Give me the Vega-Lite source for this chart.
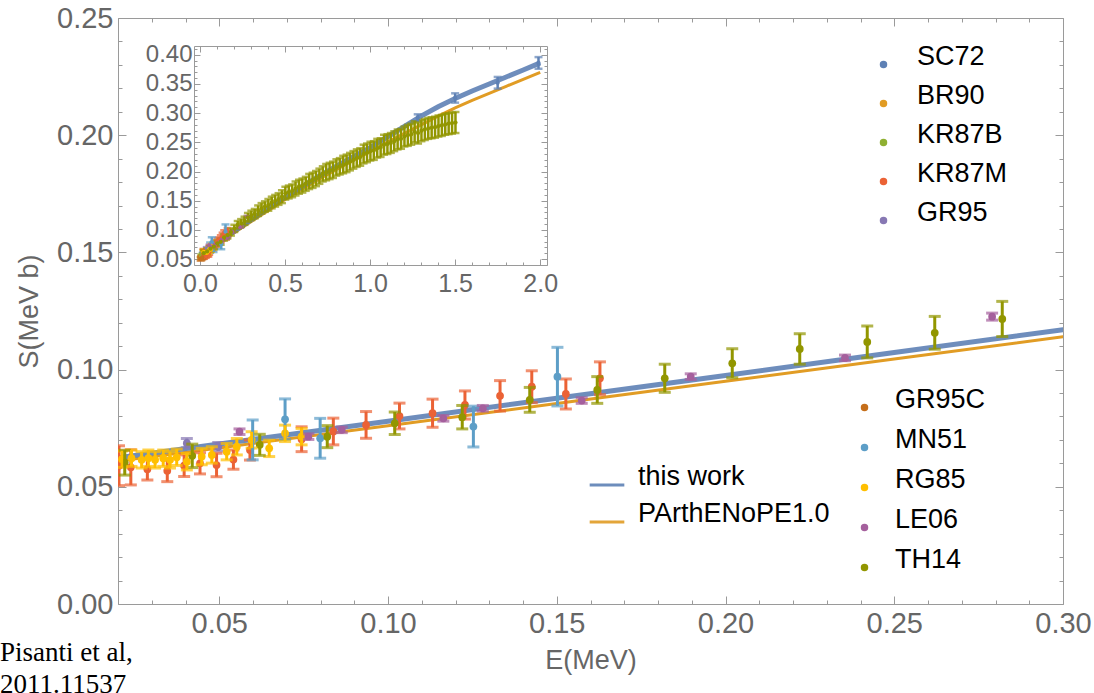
{
"$schema": "https://vega.github.io/schema/vega-lite/v6.json",
"width": 945, "height": 586,
"autosize": {"type": "none"},
"padding": {"left": 118, "top": 18, "right": 31, "bottom": 89},
"background": "white",
"config": {"view": {"stroke": null}, "font": "Liberation Sans", "axis": {"labelFont": "Liberation Sans", "titleFont": "Liberation Sans"}, "legend": {"labelFont": "Liberation Sans", "labelLimit": 400}},
"title": {"text": ["Pisanti et al,", "2011.11537"], "orient": "bottom", "anchor": "start", "frame": "group", "dx": -118, "offset": -33, "font": "Liberation Serif", "fontSize": 27, "fontWeight": "normal", "color": "black", "lineHeight": 32, "baseline": "top"},
"datasets": {
"cur": [
{"model":"this work","E":0.0,"S":0.0585},{"model":"this work","E":0.05,"S":0.0683},{"model":"this work","E":0.1,"S":0.078},{"model":"this work","E":0.15,"S":0.0878},{"model":"this work","E":0.2,"S":0.0975},{"model":"this work","E":0.25,"S":0.1073},{"model":"this work","E":0.3,"S":0.117},{"model":"this work","E":0.4,"S":0.137},{"model":"this work","E":0.5,"S":0.156},{"model":"this work","E":0.6,"S":0.174},{"model":"this work","E":0.7,"S":0.192},{"model":"this work","E":0.8,"S":0.209},{"model":"this work","E":0.9,"S":0.225},{"model":"this work","E":1.0,"S":0.241},{"model":"this work","E":1.1,"S":0.259},{"model":"this work","E":1.2,"S":0.277},{"model":"this work","E":1.3,"S":0.295},{"model":"this work","E":1.4,"S":0.311},{"model":"this work","E":1.5,"S":0.325},{"model":"this work","E":1.6,"S":0.338},{"model":"this work","E":1.7,"S":0.350},{"model":"this work","E":1.8,"S":0.362},{"model":"this work","E":1.9,"S":0.374},{"model":"this work","E":2.0,"S":0.386},
{"model":"PArthENoPE1.0","E":0.0,"S":0.0572},{"model":"PArthENoPE1.0","E":0.05,"S":0.0666},{"model":"PArthENoPE1.0","E":0.1,"S":0.076},{"model":"PArthENoPE1.0","E":0.15,"S":0.0855},{"model":"PArthENoPE1.0","E":0.2,"S":0.095},{"model":"PArthENoPE1.0","E":0.25,"S":0.1045},{"model":"PArthENoPE1.0","E":0.3,"S":0.114},{"model":"PArthENoPE1.0","E":0.4,"S":0.133},{"model":"PArthENoPE1.0","E":0.5,"S":0.152},{"model":"PArthENoPE1.0","E":0.6,"S":0.170},{"model":"PArthENoPE1.0","E":0.7,"S":0.187},{"model":"PArthENoPE1.0","E":0.8,"S":0.203},{"model":"PArthENoPE1.0","E":0.9,"S":0.219},{"model":"PArthENoPE1.0","E":1.0,"S":0.234},{"model":"PArthENoPE1.0","E":1.1,"S":0.250},{"model":"PArthENoPE1.0","E":1.2,"S":0.265},{"model":"PArthENoPE1.0","E":1.3,"S":0.280},{"model":"PArthENoPE1.0","E":1.4,"S":0.295},{"model":"PArthENoPE1.0","E":1.5,"S":0.309},{"model":"PArthENoPE1.0","E":1.6,"S":0.322},{"model":"PArthENoPE1.0","E":1.7,"S":0.334},{"model":"PArthENoPE1.0","E":1.8,"S":0.346},{"model":"PArthENoPE1.0","E":1.9,"S":0.358},{"model":"PArthENoPE1.0","E":2.0,"S":0.370}
],
"pts": [
{"set":"SC72","E":1.28,"S":0.292,"err":0.006},{"set":"SC72","E":1.5,"S":0.326,"err":0.008},{"set":"SC72","E":1.75,"S":0.352,"err":0.01},{"set":"SC72","E":1.99,"S":0.386,"err":0.01},
{"set":"BR90","E":0.006,"S":0.0535,"err":0.002},{"set":"BR90","E":0.012,"S":0.0545,"err":0.002},
{"set":"KR87B","E":0.008,"S":0.055,"err":0.003},{"set":"KR87B","E":0.016,"S":0.0565,"err":0.003},
{"set":"KR87M","E":0.0203,"S":0.059,"err":0.0085},{"set":"KR87M","E":0.0238,"S":0.0583,"err":0.0075},{"set":"KR87M","E":0.0287,"S":0.0575,"err":0.0046},{"set":"KR87M","E":0.0346,"S":0.0568,"err":0.0046},{"set":"KR87M","E":0.0396,"S":0.059,"err":0.0046},{"set":"KR87M","E":0.0443,"S":0.06,"err":0.0045},{"set":"KR87M","E":0.0492,"S":0.0593,"err":0.005},{"set":"KR87M","E":0.0542,"S":0.0616,"err":0.0041},{"set":"KR87M","E":0.0591,"S":0.0657,"err":0.0043},{"set":"KR87M","E":0.0744,"S":0.0703,"err":0.0053},{"set":"KR87M","E":0.0838,"S":0.0736,"err":0.0057},{"set":"KR87M","E":0.0935,"S":0.0764,"err":0.0057},{"set":"KR87M","E":0.1034,"S":0.0802,"err":0.0055},{"set":"KR87M","E":0.1132,"S":0.0814,"err":0.006},{"set":"KR87M","E":0.1228,"S":0.0849,"err":0.006},{"set":"KR87M","E":0.1332,"S":0.0888,"err":0.0065},{"set":"KR87M","E":0.1426,"S":0.0927,"err":0.0068},{"set":"KR87M","E":0.1527,"S":0.0896,"err":0.0064},{"set":"KR87M","E":0.1628,"S":0.0963,"err":0.007},
{"set":"GR95","E":0.0404,"S":0.0686,"err":0.002},{"set":"GR95","E":0.0497,"S":0.0671,"err":0.0018},
{"set":"GR95C","E":0.004,"S":0.0505,"err":0.003},{"set":"GR95C","E":0.009,"S":0.0515,"err":0.003},{"set":"GR95C","E":0.014,"S":0.053,"err":0.003},
{"set":"MN51","E":0.0599,"S":0.07,"err":0.0085},{"set":"MN51","E":0.0695,"S":0.0788,"err":0.0087},{"set":"MN51","E":0.0799,"S":0.0707,"err":0.0085},{"set":"MN51","E":0.1253,"S":0.0757,"err":0.0087},{"set":"MN51","E":0.1502,"S":0.097,"err":0.0125},
{"set":"RG85","E":0.0212,"S":0.0618,"err":0.0035},{"set":"RG85","E":0.024,"S":0.0622,"err":0.0035},{"set":"RG85","E":0.027,"S":0.0615,"err":0.0035},{"set":"RG85","E":0.029,"S":0.0622,"err":0.0035},{"set":"RG85","E":0.031,"S":0.0615,"err":0.0035},{"set":"RG85","E":0.0334,"S":0.0622,"err":0.0035},{"set":"RG85","E":0.0354,"S":0.0615,"err":0.0035},{"set":"RG85","E":0.0374,"S":0.0626,"err":0.0035},{"set":"RG85","E":0.0404,"S":0.0607,"err":0.0035},{"set":"RG85","E":0.0448,"S":0.0629,"err":0.0035},{"set":"RG85","E":0.0478,"S":0.0636,"err":0.0035},{"set":"RG85","E":0.0522,"S":0.065,"err":0.0035},{"set":"RG85","E":0.0552,"S":0.0671,"err":0.0035},{"set":"RG85","E":0.0596,"S":0.07,"err":0.0035},{"set":"RG85","E":0.0648,"S":0.0664,"err":0.0035},{"set":"RG85","E":0.0695,"S":0.0728,"err":0.0035},{"set":"RG85","E":0.0744,"S":0.0714,"err":0.0035},
{"set":"LE06","E":0.056,"S":0.0735,"err":0.0012},{"set":"LE06","E":0.0764,"S":0.0714,"err":0.0012},{"set":"LE06","E":0.0863,"S":0.0743,"err":0.0012},{"set":"LE06","E":0.1164,"S":0.0792,"err":0.0012},{"set":"LE06","E":0.1281,"S":0.0835,"err":0.0012},{"set":"LE06","E":0.1574,"S":0.0868,"err":0.0012},{"set":"LE06","E":0.1897,"S":0.097,"err":0.0012},{"set":"LE06","E":0.2354,"S":0.105,"err":0.0012},{"set":"LE06","E":0.279,"S":0.1226,"err":0.0015},
{"set":"TH14","E":0.022,"S":0.0603,"err":0.0053},{"set":"TH14","E":0.042,"S":0.0632,"err":0.005},{"set":"TH14","E":0.062,"S":0.0679,"err":0.0045},{"set":"TH14","E":0.082,"S":0.0714,"err":0.0047},{"set":"TH14","E":0.102,"S":0.0771,"err":0.0048},{"set":"TH14","E":0.122,"S":0.0797,"err":0.005},{"set":"TH14","E":0.142,"S":0.0871,"err":0.0053},{"set":"TH14","E":0.162,"S":0.0913,"err":0.0057},{"set":"TH14","E":0.182,"S":0.0963,"err":0.006},{"set":"TH14","E":0.202,"S":0.1027,"err":0.0062},{"set":"TH14","E":0.222,"S":0.1088,"err":0.0065},{"set":"TH14","E":0.242,"S":0.1118,"err":0.0068},{"set":"TH14","E":0.262,"S":0.1157,"err":0.007},{"set":"TH14","E":0.282,"S":0.1216,"err":0.0075},
{"set":"TH14","E":0.302,"S":0.125,"err":0.008},{"set":"TH14","E":0.322,"S":0.128,"err":0.008},{"set":"TH14","E":0.342,"S":0.133,"err":0.009},{"set":"TH14","E":0.362,"S":0.137,"err":0.009},{"set":"TH14","E":0.382,"S":0.14,"err":0.009},{"set":"TH14","E":0.402,"S":0.143,"err":0.01},{"set":"TH14","E":0.422,"S":0.147,"err":0.01},{"set":"TH14","E":0.442,"S":0.15,"err":0.01},{"set":"TH14","E":0.462,"S":0.153,"err":0.01},{"set":"TH14","E":0.482,"S":0.157,"err":0.011},{"set":"TH14","E":0.502,"S":0.163,"err":0.011},{"set":"TH14","E":0.522,"S":0.165,"err":0.011},{"set":"TH14","E":0.542,"S":0.167,"err":0.011},{"set":"TH14","E":0.562,"S":0.171,"err":0.012},{"set":"TH14","E":0.582,"S":0.174,"err":0.012},{"set":"TH14","E":0.602,"S":0.176,"err":0.012},{"set":"TH14","E":0.622,"S":0.179,"err":0.012},{"set":"TH14","E":0.642,"S":0.183,"err":0.013},{"set":"TH14","E":0.662,"S":0.185,"err":0.013},{"set":"TH14","E":0.682,"S":0.188,"err":0.013},{"set":"TH14","E":0.702,"S":0.192,"err":0.013},{"set":"TH14","E":0.722,"S":0.196,"err":0.013},{"set":"TH14","E":0.742,"S":0.199,"err":0.014},{"set":"TH14","E":0.762,"S":0.201,"err":0.014},{"set":"TH14","E":0.782,"S":0.203,"err":0.014},{"set":"TH14","E":0.802,"S":0.207,"err":0.014},{"set":"TH14","E":0.822,"S":0.209,"err":0.014},{"set":"TH14","E":0.842,"S":0.212,"err":0.015},{"set":"TH14","E":0.862,"S":0.214,"err":0.015},{"set":"TH14","E":0.882,"S":0.217,"err":0.015},{"set":"TH14","E":0.902,"S":0.22,"err":0.015},{"set":"TH14","E":0.922,"S":0.223,"err":0.015},{"set":"TH14","E":0.942,"S":0.225,"err":0.015},{"set":"TH14","E":0.962,"S":0.23,"err":0.016},{"set":"TH14","E":0.982,"S":0.232,"err":0.016},{"set":"TH14","E":1.002,"S":0.235,"err":0.016},{"set":"TH14","E":1.022,"S":0.236,"err":0.016},{"set":"TH14","E":1.042,"S":0.24,"err":0.016},{"set":"TH14","E":1.062,"S":0.241,"err":0.016},{"set":"TH14","E":1.082,"S":0.246,"err":0.017},{"set":"TH14","E":1.102,"S":0.247,"err":0.017},{"set":"TH14","E":1.122,"S":0.249,"err":0.017},{"set":"TH14","E":1.142,"S":0.252,"err":0.017},{"set":"TH14","E":1.162,"S":0.255,"err":0.017},{"set":"TH14","E":1.182,"S":0.256,"err":0.017},{"set":"TH14","E":1.202,"S":0.26,"err":0.017},{"set":"TH14","E":1.222,"S":0.262,"err":0.018},{"set":"TH14","E":1.242,"S":0.264,"err":0.018},{"set":"TH14","E":1.262,"S":0.268,"err":0.018},{"set":"TH14","E":1.282,"S":0.266,"err":0.018},{"set":"TH14","E":1.302,"S":0.27,"err":0.018},{"set":"TH14","E":1.322,"S":0.272,"err":0.018},{"set":"TH14","E":1.342,"S":0.274,"err":0.018},{"set":"TH14","E":1.362,"S":0.275,"err":0.018},{"set":"TH14","E":1.382,"S":0.276,"err":0.018},{"set":"TH14","E":1.402,"S":0.278,"err":0.018},{"set":"TH14","E":1.422,"S":0.279,"err":0.018},{"set":"TH14","E":1.442,"S":0.281,"err":0.018},{"set":"TH14","E":1.462,"S":0.282,"err":0.018},{"set":"TH14","E":1.482,"S":0.283,"err":0.018},{"set":"TH14","E":1.502,"S":0.284,"err":0.018}
]
},
"layer": [
{
"data": {"name": "cur"},
"encoding": {
"x": {"field": "E", "type": "quantitative", "scale": {"domain": [0.02, 0.3], "nice": false, "zero": false},
 "axis": {"orient": "bottom", "values": [0.02,0.03,0.04,0.05,0.06,0.07,0.08,0.09,0.1,0.11,0.12,0.13,0.14,0.15,0.16,0.17,0.18,0.19,0.2,0.21,0.22,0.23,0.24,0.25,0.26,0.27,0.28,0.29,0.3],
 "labelExpr": "abs(datum.value*20-round(datum.value*20))<0.001 ? format(datum.value,'.2f') : ''",
 "tickSize": {"condition": {"test": "abs(datum.value*20-round(datum.value*20))<0.001", "value": -8}, "value": -4},
 "tickColor": "#9a9a9a", "domainColor": "#9a9a9a", "labelFontSize": 29, "labelColor": "#666666", "labelPadding": 13, "labelOverlap": false, "labelFlush": false, "labelBound": false, "grid": false,
 "title": "E(MeV)", "titleFontSize": 27, "titleFontWeight": "normal", "titleColor": "#666666", "titlePadding": 5}},
"y": {"field": "S", "type": "quantitative", "scale": {"domain": [0, 0.25], "nice": false, "zero": false},
 "axis": {"orient": "left", "values": [0,0.01,0.02,0.03,0.04,0.05,0.06,0.07,0.08,0.09,0.1,0.11,0.12,0.13,0.14,0.15,0.16,0.17,0.18,0.19,0.2,0.21,0.22,0.23,0.24,0.25],
 "labelExpr": "abs(datum.value*20-round(datum.value*20))<0.001 ? format(datum.value,'.2f') : ''",
 "tickSize": {"condition": {"test": "abs(datum.value*20-round(datum.value*20))<0.001", "value": -8}, "value": -4},
 "tickColor": "#9a9a9a", "domainColor": "#9a9a9a", "labelFontSize": 29, "labelColor": "#666666", "labelPadding": 13, "labelOverlap": false, "labelFlush": false, "labelBound": false, "grid": false,
 "title": "S(MeV b)", "titleFontSize": 27, "titleFontWeight": "normal", "titleColor": "#666666", "titlePadding": 13}},
"color": {"field": "model", "type": "nominal", "scale": {"domain": ["this work", "PArthENoPE1.0"], "range": ["#5E81B5", "#E19C24"]},
 "legend": {"title": null, "orient": "none", "legendX": 470, "legendY": 448, "symbolType": "stroke", "symbolSize": 1200, "symbolStrokeWidth": 3, "labelFontSize": 27, "labelColor": "black", "labelOffset": 12, "rowPadding": 9, "padding": 0, "labelBaseline": "alphabetic"}}
},
"layer": [
{"transform": [{"filter": "datum.model == 'PArthENoPE1.0'"}], "mark": {"type": "line", "strokeWidth": 3, "clip": true}},
{"transform": [{"filter": "datum.model == 'this work'"}], "mark": {"type": "line", "strokeWidth": 5, "opacity": 0.9, "clip": true}}
]
},
{
"data": {"name": "pts"},
"transform": [{"filter": {"field": "set", "oneOf": ["SC72", "BR90", "KR87B", "KR87M", "GR95"]}}],
"encoding": {
"x": {"field": "E", "type": "quantitative", "scale": {"domain": [0.02, 0.3], "nice": false, "zero": false},
 "axis": {"orient": "top", "values": [0.02,0.03,0.04,0.05,0.06,0.07,0.08,0.09,0.1,0.11,0.12,0.13,0.14,0.15,0.16,0.17,0.18,0.19,0.2,0.21,0.22,0.23,0.24,0.25,0.26,0.27,0.28,0.29,0.3], "labels": false, "title": null, "grid": false,
 "tickSize": {"condition": {"test": "abs(datum.value*20-round(datum.value*20))<0.001", "value": -8}, "value": -4}, "tickColor": "#9a9a9a", "domainColor": "#9a9a9a"}},
"y": {"field": "S", "type": "quantitative", "scale": {"domain": [0, 0.25], "nice": false, "zero": false},
 "axis": {"orient": "right", "values": [0,0.01,0.02,0.03,0.04,0.05,0.06,0.07,0.08,0.09,0.1,0.11,0.12,0.13,0.14,0.15,0.16,0.17,0.18,0.19,0.2,0.21,0.22,0.23,0.24,0.25], "labels": false, "title": null, "grid": false,
 "tickSize": {"condition": {"test": "abs(datum.value*20-round(datum.value*20))<0.001", "value": -8}, "value": -4}, "tickColor": "#9a9a9a", "domainColor": "#9a9a9a"}},
"color": {"field": "set", "type": "nominal", "scale": {"domain": ["SC72", "BR90", "KR87B", "KR87M", "GR95"], "range": ["#5E81B5", "#E19C24", "#8FB032", "#EB6235", "#8778B3"]},
 "legend": {"title": null, "orient": "none", "legendX": 752, "legendY": 33, "symbolType": "circle", "symbolSize": 36, "labelFontSize": 27, "labelColor": "black", "labelOffset": 20, "rowPadding": 10, "padding": 0, "labelBaseline": "alphabetic"}}
},
"layer": [
{"mark": {"type": "point", "filled": true, "size": 60, "opacity": 1, "clip": true}},
{"mark": {"type": "errorbar", "ticks": true, "size": 12, "thickness": 3, "clip": true}, "encoding": {"yError": {"field": "err"}}}
]
},
{
"data": {"name": "pts"},
"transform": [{"filter": {"field": "set", "oneOf": ["GR95C", "MN51", "RG85", "LE06", "TH14"]}}],
"encoding": {
"x": {"field": "E", "type": "quantitative", "scale": {"domain": [0.02, 0.3], "nice": false, "zero": false}, "axis": null},
"y": {"field": "S", "type": "quantitative", "scale": {"domain": [0, 0.25], "nice": false, "zero": false}, "axis": null},
"color": {"field": "set", "type": "nominal", "scale": {"domain": ["GR95C", "MN51", "RG85", "LE06", "TH14"], "range": ["#C56E1A", "#5D9EC7", "#FFBF00", "#A5609D", "#929600"]},
 "legend": {"title": null, "orient": "none", "legendX": 733, "legendY": 376, "symbolType": "circle", "symbolSize": 36, "labelFontSize": 27, "labelColor": "black", "labelOffset": 17, "rowPadding": 11, "padding": 0, "labelBaseline": "alphabetic"}}
},
"layer": [
{"mark": {"type": "point", "filled": true, "size": 60, "opacity": 1, "clip": true}},
{"mark": {"type": "errorbar", "ticks": true, "size": 12, "thickness": 3, "clip": true}, "encoding": {"yError": {"field": "err"}}}
]
},
{
"data": {"name": "cur"},
"encoding": {
"x": {"field": "E", "type": "quantitative", "scale": {"domain": [-0.035, 2.04], "range": [76, 429], "nice": false, "zero": false},
 "axis": {"orient": "bottom", "offset": -339, "values": [0,0.1,0.2,0.3,0.4,0.5,0.6,0.7,0.8,0.9,1,1.1,1.2,1.3,1.4,1.5,1.6,1.7,1.8,1.9,2],
 "labelExpr": "abs(datum.value*2-round(datum.value*2))<0.001 ? format(datum.value,'.1f') : ''",
 "tickSize": {"condition": {"test": "abs(datum.value*2-round(datum.value*2))<0.001", "value": -6}, "value": -3},
 "tickColor": "#9a9a9a", "domainColor": "#9a9a9a", "labelFontSize": 25, "labelColor": "#666666", "labelPadding": 12, "labelOverlap": false, "labelFlush": false, "labelBound": false, "grid": false, "title": null}},
"y": {"field": "S", "type": "quantitative", "scale": {"domain": [0.04, 0.415], "range": [247, 28], "nice": false, "zero": false},
 "axis": {"orient": "left", "offset": -76, "values": [0.04,0.05,0.06,0.07,0.08,0.09,0.1,0.11,0.12,0.13,0.14,0.15,0.16,0.17,0.18,0.19,0.2,0.21,0.22,0.23,0.24,0.25,0.26,0.27,0.28,0.29,0.3,0.31,0.32,0.33,0.34,0.35,0.36,0.37,0.38,0.39,0.4,0.41],
 "labelExpr": "abs(datum.value*20-round(datum.value*20))<0.001 ? format(datum.value,'.2f') : ''",
 "tickSize": {"condition": {"test": "abs(datum.value*20-round(datum.value*20))<0.001", "value": -6}, "value": -3},
 "tickColor": "#9a9a9a", "domainColor": "#9a9a9a", "labelFontSize": 24, "labelColor": "#666666", "labelPadding": 8, "labelOverlap": false, "labelFlush": false, "labelBound": false, "grid": false, "title": null}},
"color": {"field": "model", "type": "nominal", "scale": {"domain": ["this work", "PArthENoPE1.0"], "range": ["#5E81B5", "#E19C24"]}, "legend": null}
},
"layer": [
{"transform": [{"filter": "datum.model == 'PArthENoPE1.0'"}], "mark": {"type": "line", "strokeWidth": 3}},
{"transform": [{"filter": "datum.model == 'this work'"}], "mark": {"type": "line", "strokeWidth": 5, "opacity": 0.9}}
]
},
{
"data": {"name": "pts"},
"encoding": {
"x": {"field": "E", "type": "quantitative", "scale": {"domain": [-0.035, 2.04], "range": [76, 429], "nice": false, "zero": false},
 "axis": {"orient": "top", "offset": -28, "values": [0,0.1,0.2,0.3,0.4,0.5,0.6,0.7,0.8,0.9,1,1.1,1.2,1.3,1.4,1.5,1.6,1.7,1.8,1.9,2], "labels": false, "title": null, "grid": false,
 "tickSize": {"condition": {"test": "abs(datum.value*2-round(datum.value*2))<0.001", "value": -6}, "value": -3}, "tickColor": "#9a9a9a", "domainColor": "#9a9a9a"}},
"y": {"field": "S", "type": "quantitative", "scale": {"domain": [0.04, 0.415], "range": [247, 28], "nice": false, "zero": false},
 "axis": {"orient": "right", "offset": -516, "values": [0.04,0.05,0.06,0.07,0.08,0.09,0.1,0.11,0.12,0.13,0.14,0.15,0.16,0.17,0.18,0.19,0.2,0.21,0.22,0.23,0.24,0.25,0.26,0.27,0.28,0.29,0.3,0.31,0.32,0.33,0.34,0.35,0.36,0.37,0.38,0.39,0.4,0.41], "labels": false, "title": null, "grid": false,
 "tickSize": {"condition": {"test": "abs(datum.value*20-round(datum.value*20))<0.001", "value": -6}, "value": -3}, "tickColor": "#9a9a9a", "domainColor": "#9a9a9a"}},
"color": {"field": "set", "type": "nominal", "scale": {"domain": ["SC72", "BR90", "KR87B", "KR87M", "GR95", "GR95C", "MN51", "RG85", "LE06", "TH14"], "range": ["#5E81B5", "#E19C24", "#8FB032", "#EB6235", "#8778B3", "#C56E1A", "#5D9EC7", "#FFBF00", "#A5609D", "#929600"]}, "legend": null}
},
"layer": [
{"mark": {"type": "errorbar", "ticks": true, "size": 8, "thickness": 2.5}, "encoding": {"yError": {"field": "err"}}},
{"mark": {"type": "point", "filled": true, "size": 18, "opacity": 1}}
]
}
],
"resolve": {"scale": {"x": "independent", "y": "independent", "color": "independent"}, "axis": {"x": "independent", "y": "independent"}, "legend": {"color": "independent"}}
}
